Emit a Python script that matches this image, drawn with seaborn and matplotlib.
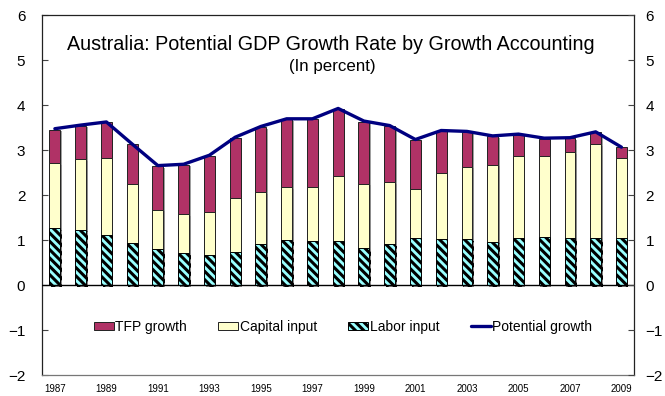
import matplotlib
matplotlib.use("Agg")
import matplotlib.pyplot as plt
import matplotlib.patches as mpatches
import matplotlib.lines as mlines
import matplotlib.patheffects as pe
import numpy as np
import pandas as pd
import seaborn as sns

# Growth accounting decomposition, percent per year
years = list(range(1987, 2010))
labor = [1.27, 1.24, 1.11, 0.94, 0.80, 0.71, 0.68, 0.74, 0.91, 1.00, 0.98, 0.98,
         0.84, 0.92, 1.06, 1.04, 1.02, 0.97, 1.06, 1.08, 1.06, 1.06, 1.05]
capital = [1.45, 1.56, 1.72, 1.32, 0.88, 0.87, 0.94, 1.19, 1.16, 1.18, 1.20, 1.46,
           1.42, 1.37, 1.07, 1.46, 1.62, 1.71, 1.82, 1.79, 1.90, 2.08, 1.77]
tfp = [0.74, 0.75, 0.80, 0.88, 0.97, 1.10, 1.26, 1.35, 1.45, 1.51, 1.51, 1.48,
       1.38, 1.26, 1.10, 0.93, 0.77, 0.63, 0.47, 0.39, 0.31, 0.26, 0.25]
potential = [3.48, 3.56, 3.63, 3.14, 2.66, 2.69, 2.89, 3.29, 3.53, 3.70, 3.70, 3.93,
             3.65, 3.55, 3.24, 3.44, 3.42, 3.32, 3.36, 3.27, 3.28, 3.41, 3.07]
xtick_labels = [str(y) if (y - 1987) % 2 == 0 else "" for y in years]

sns.set_theme(style="white")
plt.rcParams["font.family"] = ["Liberation Sans", "DejaVu Sans"]
plt.rcParams["hatch.linewidth"] = 2.2
plt.rcParams["text.color"] = "black"
plt.rcParams["xtick.labelcolor"] = "black"
plt.rcParams["ytick.labelcolor"] = "black"

df = pd.DataFrame({
    "year": [str(y) for y in years],
    "labor": labor,
    "capital": capital,
    "tfp": tfp,
    "potential": potential,
})
df["cap_top"] = df["labor"] + df["capital"]
df["tfp_top"] = df["cap_top"] + df["tfp"]

tfp_color = "#B03266"
cap_color = "#FFFFCC"
lab_color = "#99FFFF"
line_color = "#000080"

fig = plt.figure(figsize=(6.65, 3.96), dpi=100)
ax = fig.add_axes([42 / 665, 1 - 375.3 / 396, (634.3 - 42) / 665, (375.3 - 15.3) / 396])

shadow = [pe.SimplePatchShadow(offset=(1.2, -1.2), shadow_rgbFace="#888888", alpha=0.8), pe.Normal()]
bw = 0.42
sns.barplot(data=df, x="year", y="tfp_top", color=tfp_color, width=bw,
            edgecolor="#222222", linewidth=0.7, saturation=1, ax=ax, zorder=2)
sns.barplot(data=df, x="year", y="cap_top", color=cap_color, width=bw,
            edgecolor="#222222", linewidth=0.7, saturation=1, ax=ax, zorder=2)
sns.barplot(data=df, x="year", y="labor", color=lab_color, width=bw,
            edgecolor="black", linewidth=0.7, saturation=1, hatch="\\\\\\\\",
            ax=ax, zorder=2)
for p in ax.patches:
    p.set_path_effects(shadow)

xs = np.arange(len(years))
sns.lineplot(x=xs, y=df["potential"].to_numpy(), color=line_color, linewidth=2.4,
             ax=ax, zorder=4)

ax.axhline(0, color="black", linewidth=1.0, zorder=3)
ax.set_xlim(-0.5, len(years) - 0.5)
ax.set_ylim(-2, 6)
ax.set_yticks(range(-2, 7))
ax.set_xticks(xs)
ax.set_xticklabels(xtick_labels, fontsize=7)
ax.set_xlabel("")
ax.set_ylabel("")
ax.tick_params(axis="y", direction="in", length=4, width=0.8, labelsize=11, pad=12,
               left=True, right=False, labelleft=True, labelright=False, color="#444444")
ax.tick_params(axis="x", length=0, pad=6)
for s in ax.spines.values():
    s.set_color("#222222")
    s.set_linewidth(0.9)
ax.spines["bottom"].set_color("#777777")

# Mirrored scale on the right side
ax2 = ax.twinx()
ax2.set_ylim(ax.get_ylim())
ax2.set_yticks(range(-2, 7))
ax2.tick_params(axis="y", direction="in", length=4, width=0.8, labelsize=11, pad=8,
                color="#444444")
ax2.grid(False)
for s in ax2.spines.values():
    s.set_visible(False)

fig.text(0.497, 1 - 45 / 396, "Australia: Potential GDP Growth Rate by Growth Accounting",
         ha="center", va="center", fontsize=14.2)
fig.text(0.499, 1 - 66 / 396, "(In percent)", ha="center", va="center", fontsize=12.2)

handles = [
    mpatches.Patch(facecolor=tfp_color, edgecolor="#222222", linewidth=0.7, label="TFP growth"),
    mpatches.Patch(facecolor=cap_color, edgecolor="#222222", linewidth=0.7, label="Capital input"),
    mpatches.Patch(facecolor=lab_color, edgecolor="black", linewidth=0.7, hatch="\\\\\\\\",
                   label="Labor input"),
    mlines.Line2D([], [], color=line_color, linewidth=2.4, label="Potential growth"),
]
ax.legend(handles=handles, loc="center", bbox_to_anchor=(0.508, 1 - (327 - 15.3) / 360),
          ncol=4, frameon=False, fontsize=10, handlelength=1.45, handleheight=0.55,
          handletextpad=0.1, columnspacing=2.25, labelcolor="black")

fig.savefig("out.png", dpi=100)
